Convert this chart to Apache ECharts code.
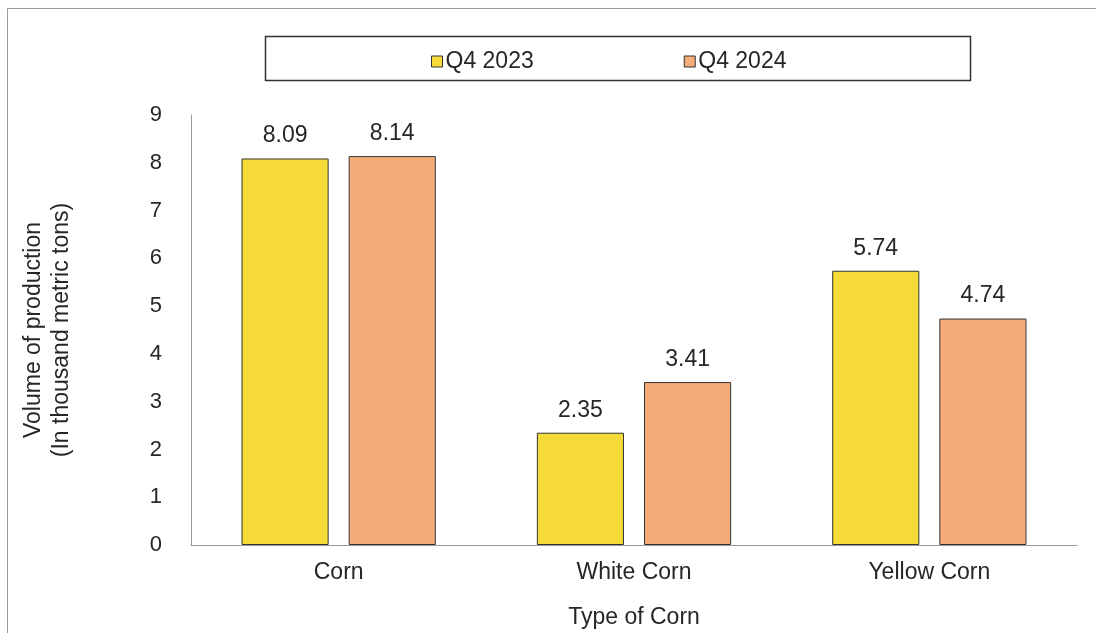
<!DOCTYPE html>
<html>
<head>
<meta charset="utf-8">
<script src="https://cdn.jsdelivr.net/npm/echarts@6/dist/echarts.min.js"></script>
<style>html,body{margin:0;padding:0;background:#fff;}#c{width:1096px;height:633px;}</style>
</head>
<body>
<div id="c"></div>
<script>
const categories = ['Corn', 'White Corn', 'Yellow Corn'];
const seriesNames = ['Q4 2023', 'Q4 2024'];
const q4_2023 = [8.09, 2.35, 5.74];
const q4_2024 = [8.14, 3.41, 4.74];
const yTicks = [0, 1, 2, 3, 4, 5, 6, 7, 8, 9];

const FONT = 'Liberation Sans, Arial, sans-serif';
const chart = echarts.init(document.getElementById('c'), null, {renderer: 'canvas'});
const labelStyle = {show: true, position: 'top', distance: 11, color: '#262626', fontSize: 23, fontFamily: FONT, formatter: p => p.value.toFixed(2)};
chart.setOption({
  animation: false,
  backgroundColor: '#fff',
  graphic: [
    {type: 'rect', shape: {x: 7.5, y: 8.5, width: 1100, height: 640}, style: {fill: 'none', stroke: '#9a9a9a', lineWidth: 1}, z: -1},
    {type: 'rect', shape: {x: 265.5, y: 36.5, width: 705, height: 44}, style: {fill: '#fff', stroke: '#333', lineWidth: 1.5}, z: -1}
  ],
  legend: {
    data: seriesNames,
    top: 45,
    left: 426,
    itemWidth: 11,
    itemHeight: 11,
    itemGap: 150,
    icon: 'rect',
    itemStyle: {borderColor: '#333', borderWidth: 1},
    textStyle: {fontSize: 23, color: '#262626', fontFamily: FONT, padding: [0, 0, 0, -2]}
  },
  grid: {left: 191, right: 19, top: 115, bottom: 88, outerBoundsMode: 'none', containLabel: false},
  xAxis: {
    type: 'category',
    data: categories,
    name: 'Type of Corn',
    nameLocation: 'middle',
    nameGap: 61,
    nameTextStyle: {fontSize: 23, color: '#262626', fontFamily: FONT},
    axisLine: {lineStyle: {color: '#999'}},
    axisTick: {show: false},
    axisLabel: {fontSize: 23, color: '#262626', fontFamily: FONT, margin: 16}
  },
  yAxis: {
    type: 'value',
    min: 0, max: 9, interval: 1,
    name: 'Volume of production\n(In thousand metric tons)',
    nameLocation: 'middle',
    nameGap: 115,
    nameRotate: 90,
    nameTextStyle: {fontSize: 23, color: '#262626', fontFamily: FONT, lineHeight: 28},
    axisLine: {show: true, lineStyle: {color: '#999'}},
    axisTick: {show: false},
    splitLine: {show: false},
    axisLabel: {fontSize: 22, color: '#262626', fontFamily: FONT, margin: 29, formatter: v => yTicks.includes(v) ? String(v) : ''}
  },
  series: [
    {name: seriesNames[0], type: 'bar', data: q4_2023, barWidth: '29.5%', barGap: '23%',
     itemStyle: {color: '#F5DA38', borderColor: '#333', borderWidth: 1}, label: labelStyle},
    {name: seriesNames[1], type: 'bar', data: q4_2024, barWidth: '29.5%',
     itemStyle: {color: '#F6AC7A', borderColor: '#333', borderWidth: 1}, label: labelStyle}
  ]
});
</script>
</body>
</html>
